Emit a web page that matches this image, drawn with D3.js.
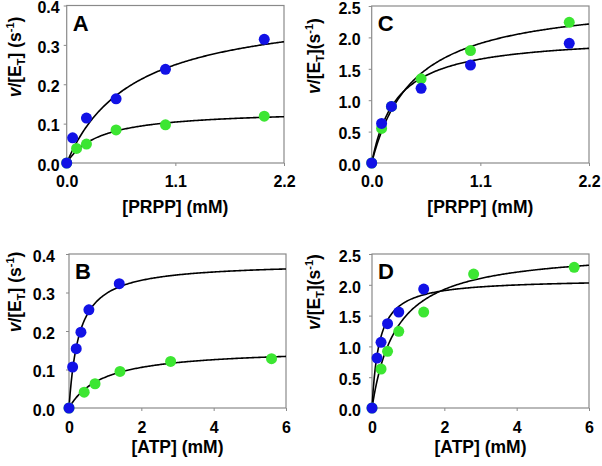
<!DOCTYPE html>
<html>
<head>
<meta charset="utf-8">
<script src="https://cdn.jsdelivr.net/npm/d3@7"></script>
<style>
  body { margin: 0; background: #fff; }
  svg { display: block; font-family: "Liberation Sans", Arial, sans-serif; font-weight: bold; }
</style>
</head>
<body>
<div id="chart"></div>
<script>
// ---- data ----
const prppTicks = [0, 1.1, 2.2];
const atpTicks = [0, 2, 4, 6];
const lowTicks = [0, 0.1, 0.2, 0.3, 0.4];
const highTicks = [0, 0.5, 1.0, 1.5, 2.0, 2.5];

// A: PRPP, low activity
const aBlueX = [0, 0.06, 0.2, 0.5, 1.0, 2.0];
const aBlueY = [0, 0.064, 0.114, 0.163, 0.238, 0.314];
const aGreenX = [0, 0.1, 0.2, 0.5, 1.0, 2.0];
const aGreenY = [0, 0.037, 0.048, 0.084, 0.097, 0.119];
const aVmax = [0.402, 0.1354];   // blue, green fitted curves
const aKm = [0.672, 0.333];

// C: PRPP, high activity
const cBlueX = [0, 0.1, 0.2, 0.5, 1.0, 2.0];
const cBlueY = [0, 0.63, 0.9, 1.19, 1.56, 1.905];
const cGreenX = [0, 0.1, 0.2, 0.5, 1.0, 2.0];
const cGreenY = [0, 0.55, 0.9, 1.34, 1.79, 2.24];
const cVmax = [2.037, 2.643];
const cKm = [0.2545, 0.427];

// B: ATP, low activity
const bBlueX = [0, 0.1, 0.2, 0.33, 0.55, 1.39];
const bBlueY = [0, 0.1065, 0.154, 0.197, 0.255, 0.323];
const bBlueErr = [0, 0, 0, 0.008, 0.013, 0.012];
const bGreenX = [0, 0.42, 0.72, 1.41, 2.81, 5.6];
const bGreenY = [0, 0.041, 0.063, 0.095, 0.121, 0.128];
const bVmax = [0.378, 0.155];
const bKm = [0.28, 0.941];

// D: ATP, high activity
const dBlueX = [0, 0.14, 0.25, 0.43, 0.74, 1.43];
const dBlueY = [0, 0.81, 1.066, 1.368, 1.558, 1.93];
const dGreenX = [0, 0.25, 0.43, 0.74, 1.43, 2.81, 5.59];
const dGreenY = [0, 0.633, 0.92, 1.245, 1.558, 2.175, 2.284];
const dVmax = [2.098, 2.58];
const dKm = [0.202, 0.68];

const blue = "#1212e6", green = "#3ce632", axisGrey = "#8a8a8a";

const panels = [
  {letter: "A", xDom: [0, 2.2], yDom: [0, 0.4], xTicks: prppTicks, yTicks: lowTicks, xFmt: d3.format(".1f"),
   left: 66.7, right: 284, top: 5.5, bottom: 163, yPad: 4, xPad: 9.5, gap: true, xTitle: "[PRPP] (mM)", xTitleY: 213,
   blueX: aBlueX, blueY: aBlueY, greenX: aGreenX, greenY: aGreenY, vmax: aVmax, km: aKm, titleX: 15, titleY: 57},
  {letter: "C", xDom: [0, 2.2], yDom: [0, 2.5], xTicks: prppTicks, yTicks: highTicks, xFmt: d3.format(".1f"),
   left: 371.7, right: 589, top: 6, bottom: 163, yPad: 8, xPad: 9.5, gap: false, xTitle: "[PRPP] (mM)", xTitleY: 213,
   blueX: cBlueX, blueY: cBlueY, greenX: cGreenX, greenY: cGreenY, vmax: cVmax, km: cKm, titleX: 314, titleY: 56},
  {letter: "B", xDom: [0, 6], yDom: [0, 0.4], xTicks: atpTicks, yTicks: lowTicks, xFmt: d3.format("d"),
   left: 69, right: 286, top: 254, bottom: 408, yPad: 11, xPad: 11, gap: true, xTitle: "[ATP] (mM)", xTitleY: 453,
   blueX: bBlueX, blueY: bBlueY, blueErr: bBlueErr, greenX: bGreenX, greenY: bGreenY, vmax: bVmax, km: bKm, titleX: 15, titleY: 292},
  {letter: "D", xDom: [0, 6], yDom: [0, 2.5], xTicks: atpTicks, yTicks: highTicks, xFmt: d3.format("d"),
   left: 372, right: 589, top: 254, bottom: 408, yPad: 8, xPad: 11, gap: false, xTitle: "[ATP] (mM)", xTitleY: 453,
   blueX: dBlueX, blueY: dBlueY, greenX: dGreenX, greenY: dGreenY, vmax: dVmax, km: dKm, titleX: 314, titleY: 292}
];

const svg = d3.select("#chart").append("svg")
  .attr("width", 602)
  .attr("height", 466);

for (const p of panels) {
  const x = d3.scaleLinear().domain(p.xDom).range([p.left, p.right]);
  const y = d3.scaleLinear().domain(p.yDom).range([p.bottom, p.top]);
  const g = svg.append("g");

  // x axis
  const xa = g.append("g")
    .attr("transform", `translate(0,${p.bottom})`)
    .call(d3.axisBottom(x).tickValues(p.xTicks).tickFormat(p.xFmt).tickSize(3).tickPadding(p.xPad));
  // y axis
  const ya = g.append("g")
    .attr("transform", `translate(${p.left},0)`)
    .call(d3.axisLeft(y).tickValues(p.yTicks).tickFormat(d3.format(".1f")).tickSize(3).tickPadding(p.yPad));
  for (const a of [xa, ya]) {
    a.select(".domain").remove();
    a.selectAll("line").attr("stroke", axisGrey);
    a.selectAll("text").attr("fill", "#000").style("font-size", "16px").style("font-weight", "bold")
      .style("font-family", "'Liberation Sans', Arial, sans-serif");
  }
  ya.selectAll("text").attr("dy", "0.45em");

  // frame
  g.append("rect")
    .attr("x", p.left).attr("y", p.top)
    .attr("width", p.right - p.left).attr("height", p.bottom - p.top)
    .attr("fill", "none").attr("stroke", axisGrey).attr("stroke-width", 1.2);

  // panel letter
  g.append("text")
    .attr("x", p.left + 6).attr("y", p.top + 25)
    .style("font-size", "22px")
    .text(p.letter);

  // axis titles
  g.append("text")
    .attr("x", (p.left + p.right) / 2).attr("y", p.xTitleY)
    .attr("text-anchor", "middle")
    .style("font-size", "17.5px")
    .text(p.xTitle);

  const yt = g.append("text")
    .attr("transform", `translate(${p.titleX + 6},${p.titleY}) rotate(-90)`)
    .attr("text-anchor", "middle")
    .style("font-size", "17.5px");
  yt.append("tspan").style("font-style", "italic").text("v");
  yt.append("tspan").text("/[E");
  yt.append("tspan").attr("dy", 4).style("font-size", "11px").text("T");
  yt.append("tspan").attr("dy", -4).text(p.gap ? "] (s" : "](s");
  yt.append("tspan").attr("dy", -7).style("font-size", "11px").text("-1");
  yt.append("tspan").attr("dy", 7).text(")");

  // fitted Michaelis-Menten curves
  const xs = d3.range(0, 201).map(i => p.xDom[0] + (p.xDom[1] - p.xDom[0]) * i / 200);
  const line = d3.line().x(d => x(d[0])).y(d => y(d[1]));
  p.vmax.forEach((vm, k) => {
    g.append("path")
      .datum(xs.map(s => [s, vm * s / (p.km[k] + s)]))
      .attr("d", line)
      .attr("fill", "none")
      .attr("stroke", "#000")
      .attr("stroke-width", 1.6);
  });

  // green then blue points
  const gpts = p.greenX.map((v, i) => [v, p.greenY[i]]);
  g.selectAll(".gp").data(gpts).enter().append("circle")
    .attr("cx", d => x(d[0])).attr("cy", d => y(d[1])).attr("r", 5.5).attr("fill", green);

  const bpts = p.blueX.map((v, i) => [v, p.blueY[i], p.blueErr ? p.blueErr[i] : 0]);
  g.selectAll(".eb").data(bpts.filter(d => d[2] > 0)).enter().append("line")
    .attr("x1", d => x(d[0])).attr("x2", d => x(d[0]))
    .attr("y1", d => y(d[1] - d[2])).attr("y2", d => y(d[1] + d[2]))
    .attr("stroke", blue).attr("stroke-width", 1.2);
  g.selectAll(".bp").data(bpts).enter().append("circle")
    .attr("cx", d => x(d[0])).attr("cy", d => y(d[1])).attr("r", 5.5).attr("fill", blue);
}
</script>
</body>
</html>
